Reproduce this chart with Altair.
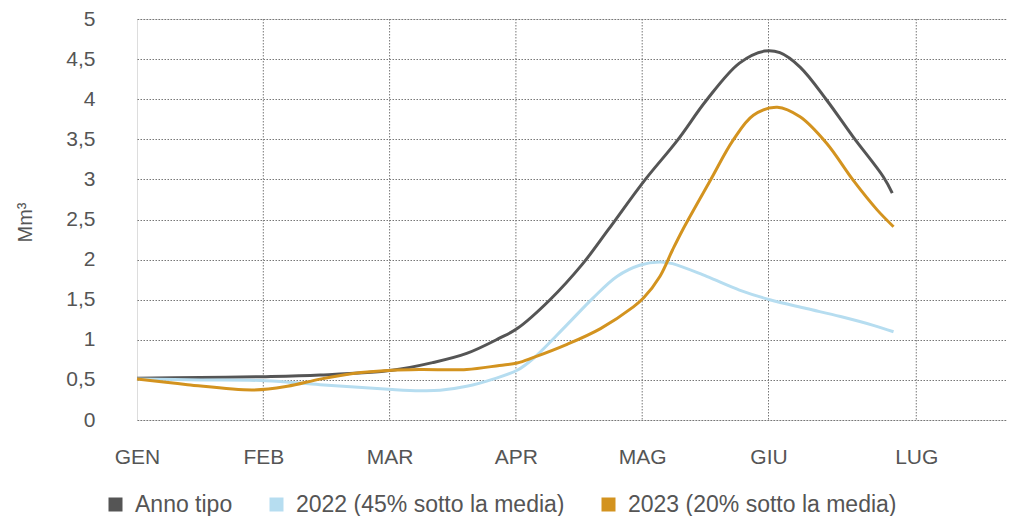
import altair as alt
import pandas as pd

# Month positions on x (month units) and labels
MONTHS = ["GEN", "FEB", "MAR", "APR", "MAG", "GIU", "LUG"]
MONTH_POS = [0, 1, 2, 3, 4, 5, 6.17]

SERIES = ["Anno tipo", "2022 (45% sotto la media)", "2023 (20% sotto la media)"]
COLORS = ["#555555", "#B6DDF0", "#D3931F"]

tipo_x = [0.00, 0.50, 1.02, 1.45, 2.02, 2.34, 2.61, 2.87, 3.01, 3.27, 3.53, 3.73, 4.01, 4.28, 4.51, 4.77, 4.97, 5.09, 5.25, 5.46, 5.67, 5.91, 5.98]
tipo_y = [0.52, 0.53, 0.54, 0.56, 0.62, 0.715, 0.83, 1.02, 1.14, 1.50, 1.95, 2.37, 2.97, 3.49, 3.99, 4.45, 4.60, 4.58, 4.40, 3.99, 3.53, 3.03, 2.83]

y22_x = [0.00, 0.50, 1.02, 1.45, 2.02, 2.24, 2.40, 2.61, 2.82, 3.01, 3.14, 3.40, 3.61, 3.80, 3.98, 4.14, 4.24, 4.51, 4.77, 5.01, 5.30, 5.57, 5.83, 5.99]
y22_y = [0.51, 0.50, 0.49, 0.44, 0.38, 0.365, 0.37, 0.42, 0.51, 0.62, 0.77, 1.18, 1.52, 1.79, 1.93, 1.97, 1.95, 1.79, 1.62, 1.50, 1.39, 1.29, 1.18, 1.10]

y23_x = [0.00, 0.40, 0.92, 1.19, 1.45, 1.71, 2.02, 2.24, 2.61, 2.87, 3.01, 3.14, 3.40, 3.67, 3.93, 4.01, 4.14, 4.24, 4.32, 4.54, 4.72, 4.88, 5.07, 5.25, 5.46, 5.67, 5.86, 5.99]
y23_y = [0.51, 0.44, 0.374, 0.42, 0.51, 0.58, 0.62, 0.63, 0.63, 0.68, 0.71, 0.78, 0.94, 1.14, 1.41, 1.52, 1.79, 2.12, 2.37, 2.99, 3.49, 3.80, 3.90, 3.78, 3.45, 2.99, 2.62, 2.41]

rows = []
for name, xs, ys in [(SERIES[0], tipo_x, tipo_y), (SERIES[1], y22_x, y22_y), (SERIES[2], y23_x, y23_y)]:
    for i, (x, y) in enumerate(zip(xs, ys)):
        rows.append({"serie": name, "mese": x, "valore": y, "ord": i})
df = pd.DataFrame(rows)

grid_df = pd.DataFrame({"mese": MONTH_POS[1:]})

FONT = "Liberation Sans"
TXT = "#555555"
GRID = "#777777"

names_js = "[" + ",".join("'%s'" % m for m in MONTHS) + "]"
pos_js = "[" + ",".join(str(p) for p in MONTH_POS) + "]"

x_scale = alt.Scale(domain=[0, 870 / 126.3], nice=False, zero=False)

x_axis = alt.Axis(
    values=MONTH_POS,
    labelExpr=f"{names_js}[indexof({pos_js}, datum.value)]",
    title=None,
    domain=False,
    ticks=False,
    grid=False,
    labelFont=FONT,
    labelFontSize=21,
    labelColor=TXT,
    labelPadding=26,
    labelAngle=0,
    labelFlush=False,
    labelAlign="center",
)

y_axis = alt.Axis(
    values=[0, 0.5, 1, 1.5, 2, 2.5, 3, 3.5, 4, 4.5, 5],
    labelExpr="replace(toString(datum.value), '.', ',')",
    title="Mm³",
    titleFont=FONT,
    titleFontSize=20,
    titleFontWeight="normal",
    titleColor=TXT,
    titleAngle=270,
    titleX=-112,
    titleY=203,
    titleAlign="center",
    titleBaseline="middle",
    domain=False,
    ticks=False,
    grid=True,
    gridDash=[1.5, 1.5],
    gridColor=GRID,
    gridWidth=1,
    labelFont=FONT,
    labelFontSize=21,
    labelColor=TXT,
    labelPadding=42,
    labelFlush=False,
)

legend = alt.Legend(
    title=None,
    orient="none",
    legendX=-33,
    legendY=474,
    direction="horizontal",
    columns=3,
    columnPadding=26,
    symbolType="square",
    symbolSize=49,
    symbolStrokeWidth=7,
    labelFont=FONT,
    labelFontSize=23,
    labelColor=TXT,
    labelOffset=8,
    padding=0,
    labelLimit=400,
)

vgrid = (
    alt.Chart(grid_df)
    .mark_rule(color=GRID, strokeWidth=1, strokeDash=[1.5, 1.5])
    .encode(x=alt.X("mese:Q", scale=x_scale, axis=x_axis))
)

lines = (
    alt.Chart(df)
    .mark_line(strokeWidth=3, interpolate="catmull-rom")
    .encode(
        x=alt.X("mese:Q", scale=x_scale, axis=x_axis),
        y=alt.Y("valore:Q", scale=alt.Scale(domain=[0, 5], nice=False), axis=y_axis),
        color=alt.Color("serie:N", scale=alt.Scale(domain=SERIES, range=COLORS), legend=legend),
        order="ord:Q",
    )
)

chart = (
    alt.layer(vgrid, lines)
    .properties(
        width=870,
        height=401,
        autosize=alt.AutoSizeParams(type="none"),
        padding={"left": 129, "top": 11, "right": 0, "bottom": 96},
    )
    .configure_view(stroke=None)
    .configure(background="white")
)

chart.save("out.html", embed_options={"renderer": "svg", "actions": False})
